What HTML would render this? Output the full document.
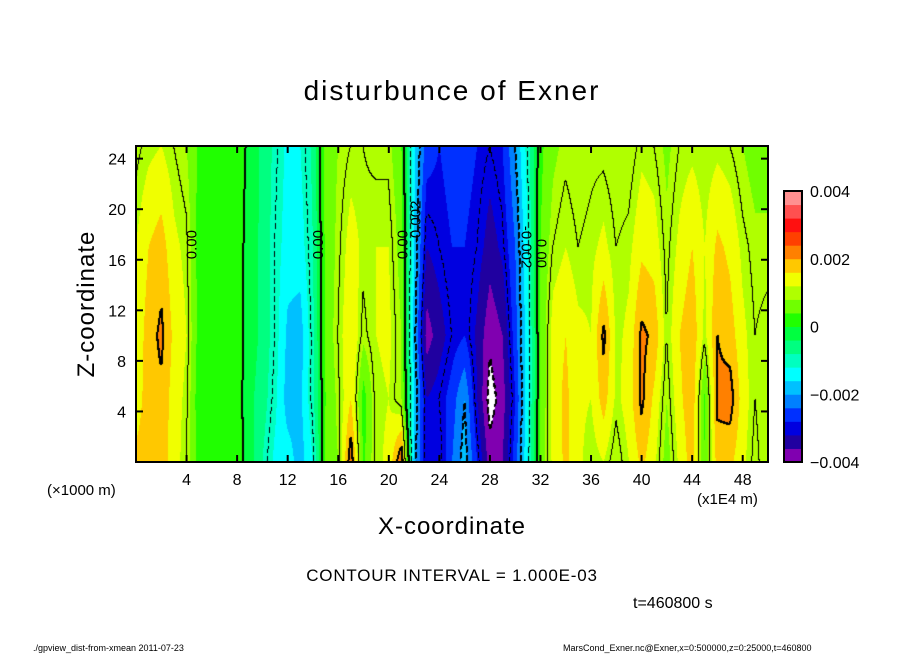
<!DOCTYPE html>
<html><head><meta charset="utf-8"><style>
body{margin:0;background:#fff;width:904px;height:654px;position:relative;overflow:hidden;font-family:"Liberation Sans",sans-serif}
.t{position:absolute;white-space:nowrap;color:#000}
</style></head><body>
<div class="t" style="left:0;width:904px;text-align:center;top:75px;font-size:28px;letter-spacing:2px">disturbunce of Exner</div>
<canvas id="cv" width="632" height="316" style="position:absolute;left:136px;top:146px"></canvas>
<svg id="ov" width="904" height="654" style="position:absolute;left:0;top:0"></svg>
<div class="t" style="left:-8px;top:290px;font-size:24px;letter-spacing:1px;transform:rotate(-90deg);transform-origin:center;width:190px;text-align:center">Z-coordinate</div>
<div class="t" style="left:0;width:904px;text-align:center;top:513px;font-size:24px;letter-spacing:1px">X-coordinate</div>
<div class="t" style="left:47px;top:482px;font-size:15px">(×1000 m)</div>
<div class="t" style="left:697px;top:491px;font-size:15px">(x1E4 m)</div>
<div class="t" style="left:0;width:904px;text-align:center;top:566px;font-size:17px;letter-spacing:0.8px">CONTOUR INTERVAL = 1.000E-03</div>
<div class="t" style="left:633px;top:595px;font-size:16px">t=460800 s</div>
<div class="t" style="left:33px;top:643px;font-size:9px">./gpview_dist-from-xmean  2011-07-23</div>
<div class="t" style="left:563px;top:643px;font-size:9px">MarsCond_Exner.nc@Exner,x=0:500000,z=0:25000,t=460800</div>
<script>
const zLevels=[0,5,10,17,25];
const vals_z0=[1.7,1.8,1.8,1.4,1.0,0.2,0.3,0.3,0.2,-0.2,-0.8,-1.3,-1.4,-1.8,-1.2,0.5,0.8,2.3,0.3,1.1,1.3,2.4,-1.8,-3.2,-3.2,-2.4,-1.8,-2.8,-3.8,-3.6,-2.6,-1.2,0.5,1.3,1.7,1.3,1.0,1.2,0.8,1.2,1.7,1.3,0.6,1.3,1.8,0.4,1.8,1.7,1.3,0.9,1.2];
const vals_z5=[1.4,1.8,1.9,1.4,1.1,0.1,0.2,0.2,0.2,-0.3,-0.6,-1.1,-1.8,-1.7,-0.9,0.4,0.9,1.6,0.2,1.1,1.2,0.8,-1.6,-3.2,-3.0,-2.6,-2.0,-3.2,-4.2,-3.8,-2.8,-1.3,0.4,1.4,1.7,1.3,1.2,1.8,1.1,1.4,2.1,1.5,0.8,1.5,1.9,0.3,2.1,2.2,1.4,1.0,1.2];
const vals_z10=[1.3,1.8,2.1,1.5,1.2,0.2,0.3,0.3,0.2,-0.2,-0.5,-1.0,-1.7,-1.8,-0.9,0.5,1.0,1.6,0.9,1.2,1.3,0.8,-1.8,-3.8,-3.4,-3.0,-2.8,-3.3,-3.9,-3.6,-2.6,-1.3,0.4,1.4,1.6,1.3,1.2,2.1,1.1,1.3,2.1,1.9,1.0,1.6,1.9,1.1,2.0,1.8,1.3,1.0,1.1];
const vals_z17=[1.2,1.6,1.8,1.3,1.1,0.2,0.3,0.3,0.2,-0.2,-0.5,-1.0,-1.4,-1.4,-0.8,0.5,0.9,1.4,1.1,1.2,1.2,0.6,-1.6,-3.2,-3.0,-2.8,-2.8,-3.0,-3.4,-3.1,-2.4,-1.2,0.4,1.0,1.2,1.0,1.1,1.3,1.0,1.1,1.5,1.4,0.9,1.3,1.6,1.2,1.7,1.5,1.1,0.9,0.9];
const vals_z25=[0.9,1.1,1.2,1.0,0.8,0.3,0.3,0.3,0.2,-0.1,-0.5,-0.9,-1.3,-1.2,-0.7,0.6,0.8,1.0,1.0,0.9,0.9,0.4,-1.5,-2.6,-2.8,-2.6,-2.6,-2.8,-3.0,-2.8,-2.0,-1.0,0.3,0.7,0.9,0.8,0.9,0.9,0.8,0.8,1.1,1.0,0.7,1.0,1.1,1.0,1.1,1.0,0.8,0.6,0.6];
const rows=[vals_z0,vals_z5,vals_z10,vals_z17,vals_z25];
const xTicks=[4,8,12,16,20,24,28,32,36,40,44,48];
const zTicks=[4,8,12,16,20,24];
const cbLabels=["0.004","0.002","0","\u22120.002","\u22120.004"];
const cbValues=[4,2,0,-2,-4];
const colors=["#8000b0","#2000a0","#0000e0","#0030ff","#0080ff","#00c0ff","#00ffff","#00ffc0","#00ff80","#00ff40","#20ff00","#70ff00","#b0ff00","#f0ff00","#ffc800","#ff8000","#ff4000","#ff1010","#ff5050","#ff9090"];
const PL=136,PT=146,PW=632,PH=316,XMAX=50,ZMAX=25;
const sx=x=>PL+x/XMAX*PW, sz=z=>PT+PH-z/ZMAX*PH;
function field(x,z){
  let i=Math.min(Math.floor(x),49),fx=x-i;
  let j=0;while(j<zLevels.length-2&&z>zLevels[j+1])j++;
  let fz=(z-zLevels[j])/(zLevels[j+1]-zLevels[j]);
  const a=rows[j][i]*(1-fx)+rows[j][i+1]*fx,b=rows[j+1][i]*(1-fx)+rows[j+1][i+1]*fx;
  return a*(1-fz)+b*fz;
}
const cv=document.getElementById('cv'),ctx=cv.getContext('2d');
const img=ctx.createImageData(PW,PH);
const V=[];
for(let py=0;py<PH;py++){V.push([]);for(let px=0;px<PW;px++){V[py].push(field((px+0.5)/PW*XMAX,(PH-py-0.5)/PH*ZMAX));}}
function hex(c){return[parseInt(c.substr(1,2),16),parseInt(c.substr(3,2),16),parseInt(c.substr(5,2),16)];}
const rgb=colors.map(hex);
const black=new Uint8Array(PW*PH);
for(let py=0;py<PH;py++)for(let px=0;px<PW;px++){
  const v=V[py][px];let L=Math.floor(v);
  const nb=[[px+1,py],[px,py+1]];
  for(const [qx,qy] of nb){if(qx>=PW||qy>=PH)continue;const L2=Math.floor(V[qy][qx]);
    if(L2!==L){const lev=Math.max(L,L2);const thick=lev%2===0;
      if(lev<0&&((px+py)%9)>5)continue;
      black[py*PW+px]=1;if(thick){if(px+1<PW)black[py*PW+px+1]=1;if(py+1<PH)black[(py+1)*PW+px]=1;}}}
}
for(let py=0;py<PH;py++)for(let px=0;px<PW;px++){
  const v=V[py][px],k=(py*PW+px)*4;let c;
  if(black[py*PW+px])c=[0,0,0];else if(v<-4||v>4)c=[255,255,255];
  else c=rgb[Math.max(0,Math.min(19,Math.floor((v+4)/0.4)))];
  img.data[k]=c[0];img.data[k+1]=c[1];img.data[k+2]=c[2];img.data[k+3]=255;
}
ctx.putImageData(img,0,0);
const NS="http://www.w3.org/2000/svg",ov=document.getElementById('ov');
function el(t,a,txt){const e=document.createElementNS(NS,t);for(const k in a)e.setAttribute(k,a[k]);if(txt!==undefined)e.textContent=txt;ov.appendChild(e);return e;}
let fr=el('rect',{x:PL,y:PT,width:PW,height:PH,fill:'none',stroke:'#000','stroke-width':2});


xTicks.forEach(t=>{
  const x=sx(t);
  el('line',{x1:x,x2:x,y1:PT+PH,y2:PT+PH-7,stroke:'#000','stroke-width':2});
  el('line',{x1:x,x2:x,y1:PT,y2:PT+7,stroke:'#000','stroke-width':2});
  const tx=el('text',{x:x,y:485,'text-anchor':'middle','font-size':16,'font-family':'Liberation Sans'},String(t));
  
  
});
zTicks.forEach(t=>{
  const y=sz(t);
  el('line',{x1:PL,x2:PL+7,y1:y,y2:y,stroke:'#000','stroke-width':2});
  el('line',{x1:PL+PW,x2:PL+PW-7,y1:y,y2:y,stroke:'#000','stroke-width':2});
  const tx=el('text',{x:126,y:y+6,'text-anchor':'end','font-size':16,'font-family':'Liberation Sans'},String(t));
  
  
});
const CX=784,CT=191,CW=18,CH=271,bh=CH/20;
colors.forEach((c,i)=>{
  const r=el('rect',{x:CX,y:CT+CH-(i+1)*bh,width:CW,height:bh+0.5,fill:c});
  
  
});
el('rect',{x:CX,y:CT,width:CW,height:CH,fill:'none',stroke:'#000','stroke-width':2});
cbValues.forEach((v,i)=>{
  const y=CT+CH-(v+4)/8*CH;
  const tx=el('text',{x:810,y:y+6,'font-size':16,'font-family':'Liberation Sans'},cbLabels[i]);
  
  
});
const cl=[[4.8,17.2,'0.00',-90],[14.8,17.2,'0.00',-90],[21.5,17.2,'0.00',-90],[22.5,19,'-0.002',-90],[30.5,17,'-0.002',90],[31.7,16.5,'0.00',90]];
cl.forEach(c=>{
  const x=sx(c[0]),y=sz(c[1]);
  const tx=el('text',{x:x,y:y,'font-size':15,'font-family':'Liberation Sans','text-anchor':'middle',transform:`rotate(${c[3]} ${x} ${y})`,fill:'#000'},c[2]);
  
  
});
</script>
</body></html>
